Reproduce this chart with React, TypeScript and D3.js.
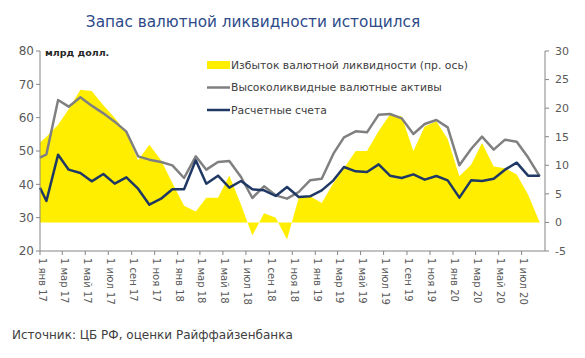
import React, { useEffect, useRef } from 'react';
import * as d3 from 'd3';

// месяцы: янв 2017 – авг 2020 (точка данных ставится на 18 число), плюс стартовая точка 1 янв 2017
const months = d3.timeMonth.range(new Date(2017, 0, 1), new Date(2020, 8, 1));
const dates = [new Date(2017, 0, 1), ...months.map((m) => d3.timeDay.offset(m, 17))];

// Избыток валютной ликвидности (пр. ось), млрд долл.
const excessLiquidity = [
  14, 15, 17.1, 19.8, 23.2, 23, 20.5, 18.3, 15.7, 10.9, 13.6, 10.9, 6.9, 2.9, 1.9, 4.3, 4.3,
  8.2, 3.1, -2.3, 1.6, 0.8, -3, 4.3, 4.6, 3.4, 6.9, 9.5, 12.5, 12.5, 16, 18.9, 18.6, 12.5,
  16.8, 17.7, 14.6, 8.1, 10.1, 13.9, 9.8, 9.5, 8.4, 4.9, 0,
];
// Высоколиквидные валютные активы
const liquidAssets = [
  48, 49, 65.3, 63.3, 66.1, 63.6, 61.3, 58.8, 55.8, 48.4, 47.4, 46.7, 45.7, 41.9, 48.4, 44.4,
  46.7, 47, 42.2, 35.9, 39.4, 36.7, 35.7, 37.7, 41.2, 41.7, 49.2, 54.1, 55.9, 55.6, 60.9, 61.1,
  59.8, 55.1, 58.1, 59.3, 57.1, 45.7, 50.6, 54.3, 50.4, 53.4, 52.8, 48.1, 42.4,
];
// Расчетные счета
const settlementAccounts = [
  39, 35, 48.9, 44.4, 43.4, 40.9, 43.1, 40.2, 42.1, 38.7, 33.9, 35.7, 38.5, 38.5, 47.2, 40.2,
  42.6, 39, 41, 38.5, 38.2, 36.5, 39.2, 36.2, 36.4, 38.2, 41.2, 45.2, 43.9, 43.7, 46, 42.6,
  41.9, 43, 41.4, 42.5, 41.2, 36, 41.2, 41, 41.7, 44.4, 46.5, 42.6, 42.6,
];

const leftTicks = [20, 30, 40, 50, 60, 70, 80];
const rightTicks = [-5, 0, 5, 10, 15, 20, 25, 30];
const monthNames = ['янв', 'фев', 'мар', 'апр', 'май', 'июн', 'июл', 'авг', 'сен', 'окт', 'ноя', 'дек'];

const legendItems = [
  { label: 'Избыток валютной ликвидности (пр. ось)', color: '#FFEE00', type: 'rect' },
  { label: 'Высоколиквидные валютные активы', color: '#808080', type: 'line' },
  { label: 'Расчетные счета', color: '#1F3864', type: 'line' },
];

const FONT = 'DejaVu Sans, sans-serif';

export default function App() {
  const ref = useRef<SVGSVGElement>(null);

  useEffect(() => {
    const svg = d3.select(ref.current);
    svg.selectAll('*').remove();

    const left = 40;
    const right = 545;
    const top = 51;
    const bottom = 251;

    const x = d3.scaleTime().domain([new Date(2017, 0, 1), new Date(2020, 8, 1)]).range([left, right]);
    const yL = d3.scaleLinear().domain([20, 80]).range([bottom, top]);
    const yR = d3.scaleLinear().domain([-5, 30]).range([bottom, top]);

    // заголовок
    svg
      .append('text')
      .attr('x', 253)
      .attr('y', 27)
      .attr('text-anchor', 'middle')
      .attr('fill', '#2D4A88')
      .style('font-family', FONT)
      .style('font-size', '15.3px')
      .text('Запас валютной ликвидности истощился');

    // площадь (правая ось)
    const area = d3
      .area<number>()
      .x((d, i) => x(dates[i]))
      .y0(yR(0))
      .y1((d) => yR(d));
    svg.append('path').datum(excessLiquidity).attr('d', area).attr('fill', '#FFEE00');

    // линии
    const lineL = d3
      .line<number>()
      .x((d, i) => x(dates[i]))
      .y((d) => yL(d));
    svg
      .append('path')
      .datum(liquidAssets)
      .attr('d', lineL)
      .attr('fill', 'none')
      .attr('stroke', '#808080')
      .attr('stroke-width', 2.5)
      .attr('stroke-linejoin', 'round');
    svg
      .append('path')
      .datum(settlementAccounts)
      .attr('d', lineL)
      .attr('fill', 'none')
      .attr('stroke', '#1F3864')
      .attr('stroke-width', 2.5)
      .attr('stroke-linejoin', 'round');

    const axisColor = '#868686';
    const labelColor = '#595959';

    // левая ось
    const gL = svg.append('g');
    gL.append('line').attr('x1', left).attr('x2', left).attr('y1', top).attr('y2', bottom).attr('stroke', axisColor);
    leftTicks.forEach((t) => {
      gL.append('line').attr('x1', left - 4).attr('x2', left).attr('y1', yL(t)).attr('y2', yL(t)).attr('stroke', axisColor);
      gL.append('text')
        .attr('x', left - 6)
        .attr('y', yL(t))
        .attr('dy', '0.35em')
        .attr('text-anchor', 'end')
        .attr('fill', labelColor)
        .style('font-family', FONT)
        .style('font-size', '12px')
        .text(t);
    });

    // правая ось
    const gR = svg.append('g');
    gR.append('line').attr('x1', right).attr('x2', right).attr('y1', top).attr('y2', bottom).attr('stroke', axisColor);
    rightTicks.forEach((t) => {
      gR.append('line').attr('x1', right).attr('x2', right + 4).attr('y1', yR(t)).attr('y2', yR(t)).attr('stroke', axisColor);
      gR.append('text')
        .attr('x', right + 10)
        .attr('y', yR(t))
        .attr('dy', '0.35em')
        .attr('text-anchor', 'start')
        .attr('fill', labelColor)
        .style('font-family', FONT)
        .style('font-size', '11px')
        .text(t);
    });

    // нижняя ось
    const gX = svg.append('g');
    gX.append('line').attr('x1', left).attr('x2', right).attr('y1', bottom).attr('y2', bottom).attr('stroke', axisColor);
    const xTicks = d3.timeMonth.every(2)!.range(new Date(2017, 0, 1), new Date(2020, 7, 1));
    xTicks.forEach((d) => {
      const tx = x(d);
      gX.append('line').attr('x1', tx).attr('x2', tx).attr('y1', bottom).attr('y2', bottom + 4).attr('stroke', axisColor);
      gX.append('text')
        .attr('transform', `translate(${tx + 2},${bottom + 7}) rotate(90)`)
        .attr('dy', '0.35em')
        .attr('text-anchor', 'start')
        .attr('fill', labelColor)
        .style('font-family', FONT)
        .style('font-size', '10px')
        .text(`1 ${monthNames[d.getMonth()]} ${String(d.getFullYear()).slice(2)}`);
    });

    // подпись единиц
    svg
      .append('text')
      .attr('x', 45)
      .attr('y', 56)
      .attr('fill', '#262626')
      .style('font-family', FONT)
      .style('font-size', '9.5px')
      .style('font-weight', 'bold')
      .text('млрд долл.');

    // легенда
    const legend = svg.append('g').attr('transform', 'translate(207,65)');
    legendItems.forEach((item, i) => {
      const g = legend.append('g').attr('transform', `translate(0,${i * 22.5})`);
      if (item.type === 'rect') {
        g.append('rect').attr('x', 0).attr('y', -4).attr('width', 23).attr('height', 8).attr('fill', item.color);
      } else {
        g.append('line').attr('x1', 0).attr('x2', 23).attr('y1', 0).attr('y2', 0).attr('stroke', item.color).attr('stroke-width', 2.5);
      }
      g.append('text')
        .attr('x', 24)
        .attr('y', 0)
        .attr('dy', '0.35em')
        .attr('fill', '#404040')
        .style('font-family', FONT)
        .style('font-size', '10.8px')
        .text(item.label);
    });

    // источник
    svg
      .append('text')
      .attr('x', 12)
      .attr('y', 339)
      .attr('fill', '#404040')
      .style('font-family', FONT)
      .style('font-size', '12px')
      .text('Источник: ЦБ РФ, оценки Райффайзенбанка');
  }, []);

  return (
    <svg
      ref={ref}
      width={585}
      height={358}
      style={{ position: 'absolute', left: 0, top: 0, background: '#fff' }}
    />
  );
}
